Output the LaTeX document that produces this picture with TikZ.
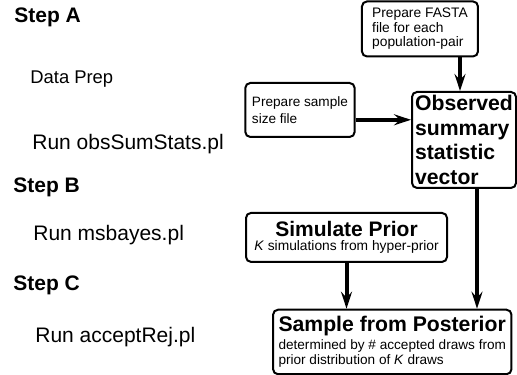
\documentclass[tikz,border=0pt]{standalone}
\usepackage{fontspec}
\setmainfont{Liberation Sans}
\usetikzlibrary{arrows.meta}

\begin{document}
\begin{tikzpicture}[
    >={Stealth[length=8.5pt, width=5.5pt, inset=3pt]},
    steplabel/.style={anchor=west, inner sep=0pt, font=\fontsize{10.5}{12.6}\selectfont\bfseries},
    cmdlabel/.style={anchor=west, inner sep=0pt, font=\fontsize{10.5}{12.6}\selectfont},
    prepbox/.style={draw, rounded corners=2.5pt, line width=1pt, align=left, font=\fontsize{6.9}{7.3}\selectfont},
    statbox/.style={draw, rounded corners=2.5pt, line width=1pt, align=left, inner xsep=1pt, inner ysep=0pt, font=\fontsize{10.6}{12.2}\selectfont\bfseries},
    simbox/.style={draw, rounded corners=2.5pt, line width=1pt, align=center, font=\fontsize{6.9}{6.7}\selectfont},
    flow/.style={->, line width=2pt}
]
    \useasboundingbox (0,0) rectangle (9.086,6.590);

    % COLUMNA DE PASOS
    \node[steplabel] (stepA) at (0.246,6.29) {Step A};
    \node[cmdlabel, font=\fontsize{9.2}{11}\selectfont] (prep) at (0.527,5.20) {Data Prep};
    \node[cmdlabel] (runObs) at (0.562,4.06) {Run obsSumStats.pl};
    \node[steplabel] (stepB) at (0.228,3.29) {Step B};
    \node[cmdlabel] (runMs) at (0.58,2.46) {Run msbayes.pl};
    \node[steplabel] (stepC) at (0.228,1.58) {Step C};
    \node[cmdlabel] (runAcc) at (0.615,0.67) {Run acceptRej.pl};

    % PREPARACION DE DATOS
    \node[prepbox, minimum width=2.039cm, minimum height=0.914cm] (fasta) at (7.381,6.081) {Prepare FASTA\\file for each\\population-pair};
    \node[prepbox, minimum width=1.863cm, minimum height=0.949cm, font=\fontsize{6.8}{8.3}\selectfont] (samp) at (5.272,4.657) {Prepare sample\\size file};
    \node[statbox, minimum width=1.828cm, minimum height=1.687cm] (obs) at (8.155,4.130) {Observed\\summary\\statistic\\vector};

    % SIMULACION Y RECHAZO
    \node[simbox, minimum width=3.533cm, minimum height=0.861cm] (sim) at (6.090,2.417) {{\fontsize{10.5}{12}\selectfont\bfseries Simulate Prior}\\\textit{K} simulations from hyper-prior};
    \node[simbox, align=left, inner xsep=1pt, minimum width=4.19cm, minimum height=1.125cm, font=\fontsize{6.8}{7.5}\selectfont] (post) at (6.894,0.580) {{\fontsize{10.6}{12}\selectfont\bfseries Sample from Posterior}\\[1.5pt]determined by \# accepted draws from\\prior distribution of \textit{K} draws};

    % FLECHAS
    \draw[flow] ([xshift=-2pt]obs.north |- fasta.south) -- ([xshift=-2pt]obs.north);
    \draw[flow] (samp.-10) -- (obs.west |- samp.-10);
    \draw[flow] ([xshift=6.5pt]obs.south) -- ([xshift=6.5pt]obs.south |- post.north);
    \draw[flow] (sim.south) -- (sim.south |- post.north);

\end{tikzpicture}
\end{document}
